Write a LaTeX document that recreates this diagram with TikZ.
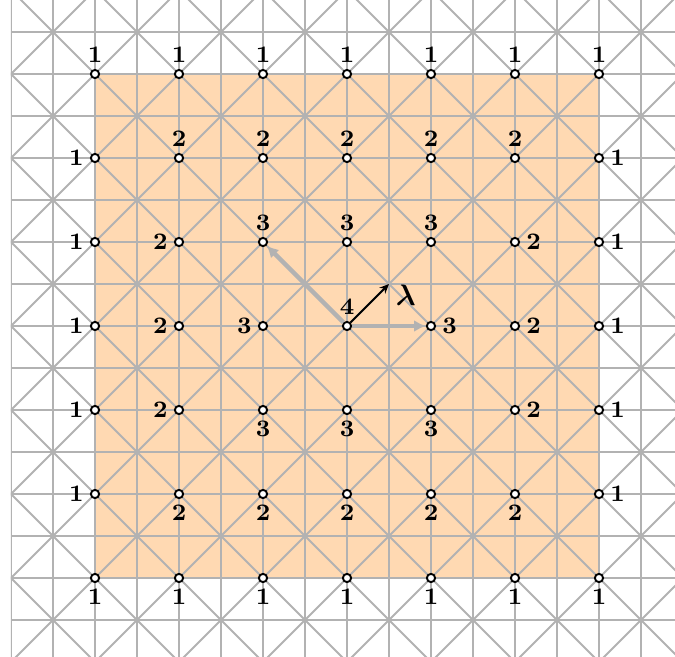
\documentclass[tikz,border=0pt]{standalone}
\usepackage{amsmath}
\usepackage{amssymb}
\usetikzlibrary{arrows.meta}

\begin{document}
\begin{tikzpicture}[gridline/.style={black!30, line width=0.7pt}, site/.style={circle, draw=black, fill=white, line width=0.65pt, inner sep=0pt, minimum size=2.8pt}, num/.style={font=\footnotesize\bfseries, inner sep=1.9pt}, move/.style={black!30, line width=1.5pt, -{Latex[length=4pt,width=4pt]}}]
\useasboundingbox (-4.131,-3.929) rectangle (3.905,3.881);
\fill[orange!30] (-3,-3) rectangle (3,3);
\begin{scope}
\clip (-4,-3.929) rectangle (3.905,3.881);
\draw[gridline] (-4,-4) grid[step=0.5] (4,4);
\foreach \k in {-9,...,9}{
  \draw[gridline] (\k-5,-5) -- (\k+5,5);
  \draw[gridline] (\k-5,5) -- (\k+5,-5);
}
\end{scope}
% lattice sites with their levels
\foreach \i in {0,...,6}
  \foreach \j in {0,...,6}{
    \pgfmathtruncatemacro\x{\i-3}
    \pgfmathtruncatemacro\y{\j-3}
    \pgfmathtruncatemacro\d{4-max(abs(\x),abs(\y))}
    \pgfmathtruncatemacro\a{abs(\y)>=abs(\x) ? (\y<0 ? 270 : 90) : (\x<0 ? 180 : 0)}
    \node[site, label={[num]\a:\d}] (v\i\j) at (\x,\y) {};
  }
\coordinate (tip) at (0.5,0.5);
\draw[move] (v33) -- (v24);
\draw[move] (v33) -- (v43);
\draw[line width=0.7pt, -{Stealth[length=3.2pt,width=2.8pt]}] (v33) -- (tip) node[anchor=north west, inner sep=0pt, xshift=2pt]{$\boldsymbol{\lambda}$};
\end{tikzpicture}
\end{document}
